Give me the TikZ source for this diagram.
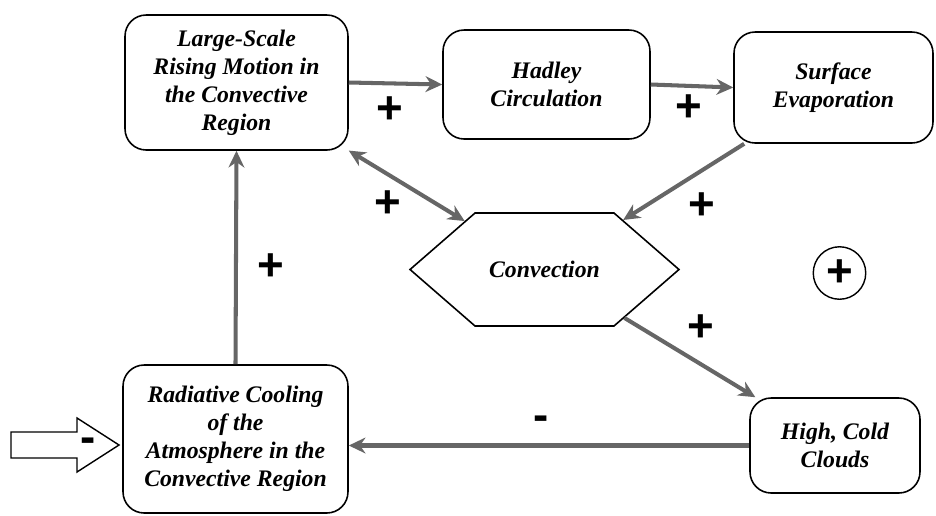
\documentclass[tikz,border=0pt]{standalone}
\usepackage{fontspec}
\setmainfont{Liberation Serif}
\newfontfamily\signfont{Liberation Sans}
\usetikzlibrary{arrows.meta,shapes.symbols}

\begin{document}
\begin{tikzpicture}[x=0.02cm,y=-0.02cm,
    box/.style={draw, line width=0.9pt, rounded corners=12pt, align=center, inner sep=0pt,
      font=\bfseries\itshape\fontsize{13.5}{15.9}\selectfont},
    hexa/.style={draw, line width=0.9pt, shape=signal, signal to=west and east,
      signal pointer angle=82, inner sep=0pt, font=\bfseries\itshape\fontsize{13.5}{15.9}\selectfont},
    arr/.style={line width=2.3pt, black!60, -{Stealth[length=9.5pt,width=9pt]}},
    sign/.style={inner sep=0pt, font=\signfont\bfseries\fontsize{26}{26}\selectfont}]

    \useasboundingbox (0,0) rectangle (936,515);

    \node [box, minimum width=4.46cm, minimum height=2.7cm] (LSR) at (236.5,82.5) {Large-Scale\\Rising Motion in\\the Convective\\Region};
    \node [box, minimum width=4.14cm, minimum height=2.18cm] (HC) at (546.5,84.5) {Hadley\\Circulation};
    \node [box, minimum width=3.98cm, minimum height=2.22cm] (SE) at (833.5,87.5) {Surface\\Evaporation};
    \node [hexa, minimum width=5.38cm, minimum height=2.26cm] (CV) at (544.5,269.5) {Convection};
    \node [box, minimum width=3.40cm, minimum height=1.90cm] (CC) at (835,445.5) {High, Cold\\Clouds};
    \node [box, minimum width=4.50cm, minimum height=2.96cm] (RC) at (235.5,439) {Radiative Cooling\\of the\\Atmosphere in the\\Convective Region};

    % forcing from outside
    \draw [line width=0.8pt] (11,432) -- (77,432) -- (77,418) -- (119,445) -- (77,472) -- (77,458) -- (11,458) -- cycle;
    \node [sign] (m0) at (88,445) {-};

    \draw [arr] (LSR.east) -- (HC.west);
    \draw [arr] (HC.east) -- (SE.west);
    \draw [arr] (SE) -- (CV);
    \draw [arr, {Stealth[length=9.5pt,width=9pt]}-{Stealth[length=9.5pt,width=9pt]}] (LSR) -- (CV);
    \draw [arr] (CV) -- (CC);
    \draw [arr] (CC.west) -- (CC.west -| RC.east);
    \draw [arr] (RC.north) -- (LSR.south);

    \node [sign] (p1) at (390,110) {+};
    \node [sign] (p2) at (689,108) {+};
    \node [sign] (p3) at (388,204) {+};
    \node [sign] (p4) at (702,206) {+};
    \node [sign] (p5) at (271,267) {+};
    \node [sign] (p6) at (701,328) {+};
    \node [sign] (m1) at (541,423) {-};
    \node [sign, draw, circle, line width=0.8pt, minimum size=1.05cm] (loop) at (839.5,273) {+};
\end{tikzpicture}
\end{document}
